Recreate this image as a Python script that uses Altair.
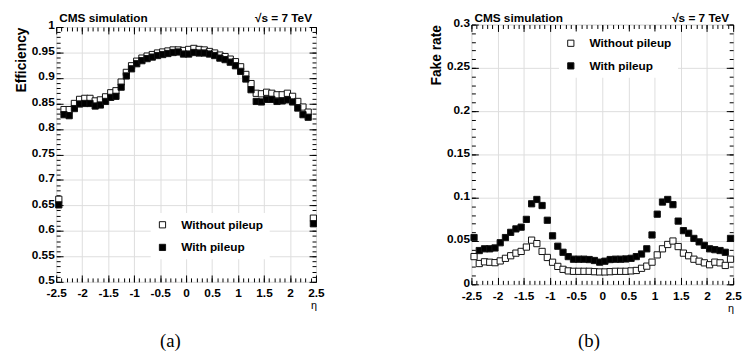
import altair as alt
import pandas as pd

# ---------------- data ----------------
ETA = [-2.45, -2.35, -2.25, -2.15, -2.05, -1.95, -1.85, -1.75, -1.65, -1.55,
       -1.45, -1.35, -1.25, -1.15, -1.05, -0.95, -0.85, -0.75, -0.65, -0.55,
       -0.45, -0.35, -0.25, -0.15, -0.05, 0.05, 0.15, 0.25, 0.35, 0.45,
       0.55, 0.65, 0.75, 0.85, 0.95, 1.05, 1.15, 1.25, 1.35, 1.45,
       1.55, 1.65, 1.75, 1.85, 1.95, 2.05, 2.15, 2.25, 2.35, 2.45]

SERIES = ["Without pileup", "With pileup"]

EFF_NOPU = [0.662, 0.838, 0.838, 0.850, 0.858, 0.860, 0.860, 0.855, 0.857, 0.863,
            0.871, 0.875, 0.892, 0.911, 0.924, 0.933, 0.939, 0.943, 0.946, 0.949,
            0.951, 0.953, 0.955, 0.955, 0.954, 0.956, 0.958, 0.956, 0.955, 0.952,
            0.949, 0.945, 0.942, 0.937, 0.932, 0.922, 0.907, 0.889, 0.870, 0.869,
            0.872, 0.870, 0.867, 0.867, 0.870, 0.864, 0.854, 0.843, 0.833, 0.625]
EFF_PU = [0.651, 0.828, 0.826, 0.840, 0.849, 0.850, 0.850, 0.845, 0.847, 0.854,
          0.862, 0.864, 0.882, 0.904, 0.918, 0.928, 0.934, 0.938, 0.941, 0.944,
          0.946, 0.948, 0.950, 0.951, 0.947, 0.947, 0.950, 0.949, 0.949, 0.947,
          0.944, 0.939, 0.936, 0.931, 0.924, 0.913, 0.898, 0.877, 0.854, 0.853,
          0.858, 0.858, 0.854, 0.855, 0.857, 0.853, 0.841, 0.828, 0.823, 0.614]

FAKE_NOPU = [0.032, 0.024, 0.026, 0.0255, 0.025, 0.027, 0.030, 0.033, 0.036, 0.038,
             0.043, 0.051, 0.047, 0.038, 0.031, 0.0255, 0.0207, 0.0173, 0.0155, 0.015,
             0.015, 0.015, 0.015, 0.0146, 0.0143, 0.0143, 0.0146, 0.015, 0.015, 0.015,
             0.0155, 0.016, 0.0185, 0.021, 0.0256, 0.034, 0.041, 0.046, 0.050, 0.0436,
             0.036, 0.033, 0.029, 0.0267, 0.0248, 0.0226, 0.0256, 0.0248, 0.0218, 0.029]
FAKE_PU = [0.054, 0.039, 0.041, 0.041, 0.042, 0.048, 0.054, 0.060, 0.064, 0.066,
           0.075, 0.093, 0.098, 0.091, 0.074, 0.056, 0.044, 0.037, 0.032, 0.029,
           0.029, 0.029, 0.0286, 0.0275, 0.0256, 0.0267, 0.0286, 0.029, 0.029, 0.0293,
           0.030, 0.032, 0.035, 0.041, 0.057, 0.081, 0.095, 0.098, 0.092, 0.073,
           0.062, 0.059, 0.053, 0.049, 0.045, 0.041, 0.040, 0.039, 0.037, 0.053]

X_MAJOR = [-2.5, -2, -1.5, -1, -0.5, 0, 0.5, 1, 1.5, 2, 2.5]
X_MINOR = [round(-2.5 + 0.1 * i, 2) for i in range(51)]
EFF_MAJOR = [0.5, 0.55, 0.6, 0.65, 0.7, 0.75, 0.8, 0.85, 0.9, 0.95, 1]
EFF_MINOR = [round(0.5 + 0.01 * i, 2) for i in range(51)]
FAKE_MAJOR = [0, 0.05, 0.1, 0.15, 0.2, 0.25, 0.3]
FAKE_MINOR = [round(0.01 * i, 2) for i in range(31)]

CMS_TEXT = "CMS simulation"
ENERGY_TEXT = "\u221as = 7 TeV"
ETA_TITLE = "\u03b7"
CAPTIONS = ["(a)", "(b)"]

SANS = "Liberation Sans"
SERIF = "Liberation Serif"
LABEL = dict(labelFont=SANS, labelFontSize=12, labelFontWeight="bold",
             labelColor="black")


def make_df(v_nopu, v_pu):
    return pd.DataFrame({
        "eta": ETA + ETA,
        "value": v_nopu + v_pu,
        "series": [SERIES[0]] * len(ETA) + [SERIES[1]] * len(ETA),
    })


def tick_layer(df, xs, ys, xvals, yvals, size, ox, oy):
    return alt.Chart(df).mark_point(opacity=0, size=1).encode(
        x=alt.X("eta:Q", scale=xs, axis=alt.Axis(
            orient=ox, values=xvals, ticks=True, tickSize=size, offset=-size,
            tickColor="black", tickWidth=1, labels=False, domain=False,
            grid=False, title=None)),
        y=alt.Y("value:Q", scale=ys, axis=alt.Axis(
            orient=oy, values=yvals, ticks=True, tickSize=size, offset=-size,
            tickColor="black", tickWidth=1, labels=False, domain=False,
            grid=False, title=None)),
    )


def text_layer(s, x, y, align, size, weight, font, baseline="alphabetic"):
    return alt.Chart(alt.Data(values=[{"t": s}])).mark_text(
        align=align, baseline=baseline, fontSize=size, fontWeight=weight,
        font=font, color="black").encode(
        text="t:N", x=alt.value(x), y=alt.value(y))


def panel(df, ydom, ymaj, ymin, ytitle, w, h, lx, ly, caption, cap_x, cap_y,
          top_y, eta_dy):
    xs = alt.Scale(domain=[-2.5, 2.5], nice=False, zero=False)
    ys = alt.Scale(domain=ydom, nice=False, zero=False)
    pts = alt.Chart(df).mark_point(
        shape="square", filled=True, size=40, stroke="#111", strokeWidth=1,
        opacity=1).encode(
        x=alt.X("eta:Q", scale=xs, axis=alt.Axis(
            orient="bottom", values=X_MAJOR, grid=True, ticks=False,
            domain=False, title=None, labelExpr="toString(datum.value)",
            labelFlush=False, labelOverlap=False, labelPadding=6, **LABEL)),
        y=alt.Y("value:Q", scale=ys, axis=alt.Axis(
            orient="left", values=ymaj, grid=True, ticks=False, domain=False,
            title=ytitle, titleAnchor="end", titleFont=SANS, titleFontSize=14,
            titleFontWeight="bold", titleColor="black", titlePadding=3,
            labelExpr="toString(datum.value)", labelOverlap=False,
            labelPadding=2, labelOffset=-2, **LABEL)),
        fill=alt.Fill("series:N", scale=alt.Scale(domain=SERIES,
                                                  range=["white", "black"]),
                      legend=alt.Legend(
                          orient="none", legendX=lx, legendY=ly, title=None,
                          symbolType="square", symbolSize=40,
                          symbolStrokeColor="#111", symbolStrokeWidth=1,
                          labelFont=SANS, labelFontSize=12,
                          labelFontWeight="bold", labelColor="black",
                          labelOffset=13, rowPadding=11, fillColor="white",
                          padding=6)),
    )
    layers = [
        pts,
        tick_layer(df, xs, ys, X_MAJOR, ymaj, 7, "bottom", "left"),
        tick_layer(df, xs, ys, X_MINOR, ymin, 4, "bottom", "left"),
        tick_layer(df, xs, ys, X_MAJOR, ymaj, 7, "top", "right"),
        tick_layer(df, xs, ys, X_MINOR, ymin, 4, "top", "right"),
        text_layer(CMS_TEXT, 3, top_y, "left", 12, "bold", SANS),
        text_layer(ENERGY_TEXT, w - 4, top_y, "right", 12, "bold", SANS),
        text_layer(ETA_TITLE, w + 1, h + eta_dy, "right", 11, "normal", SANS),
        text_layer(caption, cap_x, cap_y, "center", 19, "normal", SERIF,
                   baseline="middle"),
    ]
    return alt.layer(*layers).resolve_axis(
        x="independent", y="independent").properties(width=w, height=h)


df_a = make_df(EFF_NOPU, EFF_PU)
df_b = make_df(FAKE_NOPU, FAKE_PU)

panel_a = panel(df_a, [0.5, 1], EFF_MAJOR, EFF_MINOR, "Efficiency", 264, 259,
                96, 189, CAPTIONS[0], 116, 319, -5, 28)
panel_b = panel(df_b, [0, 0.3], FAKE_MAJOR, FAKE_MINOR, "Fake rate", 266, 264,
                89, 7, CAPTIONS[1], 119.5, 321.5, -3, 28)

chart = alt.hconcat(panel_a, panel_b, spacing=158, bounds="flush",
                    center=True).resolve_scale(
    fill="independent").resolve_legend(fill="independent").properties(
    padding={"left": 6, "top": 0, "right": 0, "bottom": 0}
).configure_view(stroke="black", strokeWidth=1).configure_axis(
    gridColor="#9a9a9a", gridDash=[1, 2], gridWidth=1, **LABEL
).configure(background="white")

chart.save("out.html", embed_options={"renderer": "svg", "actions": False})
